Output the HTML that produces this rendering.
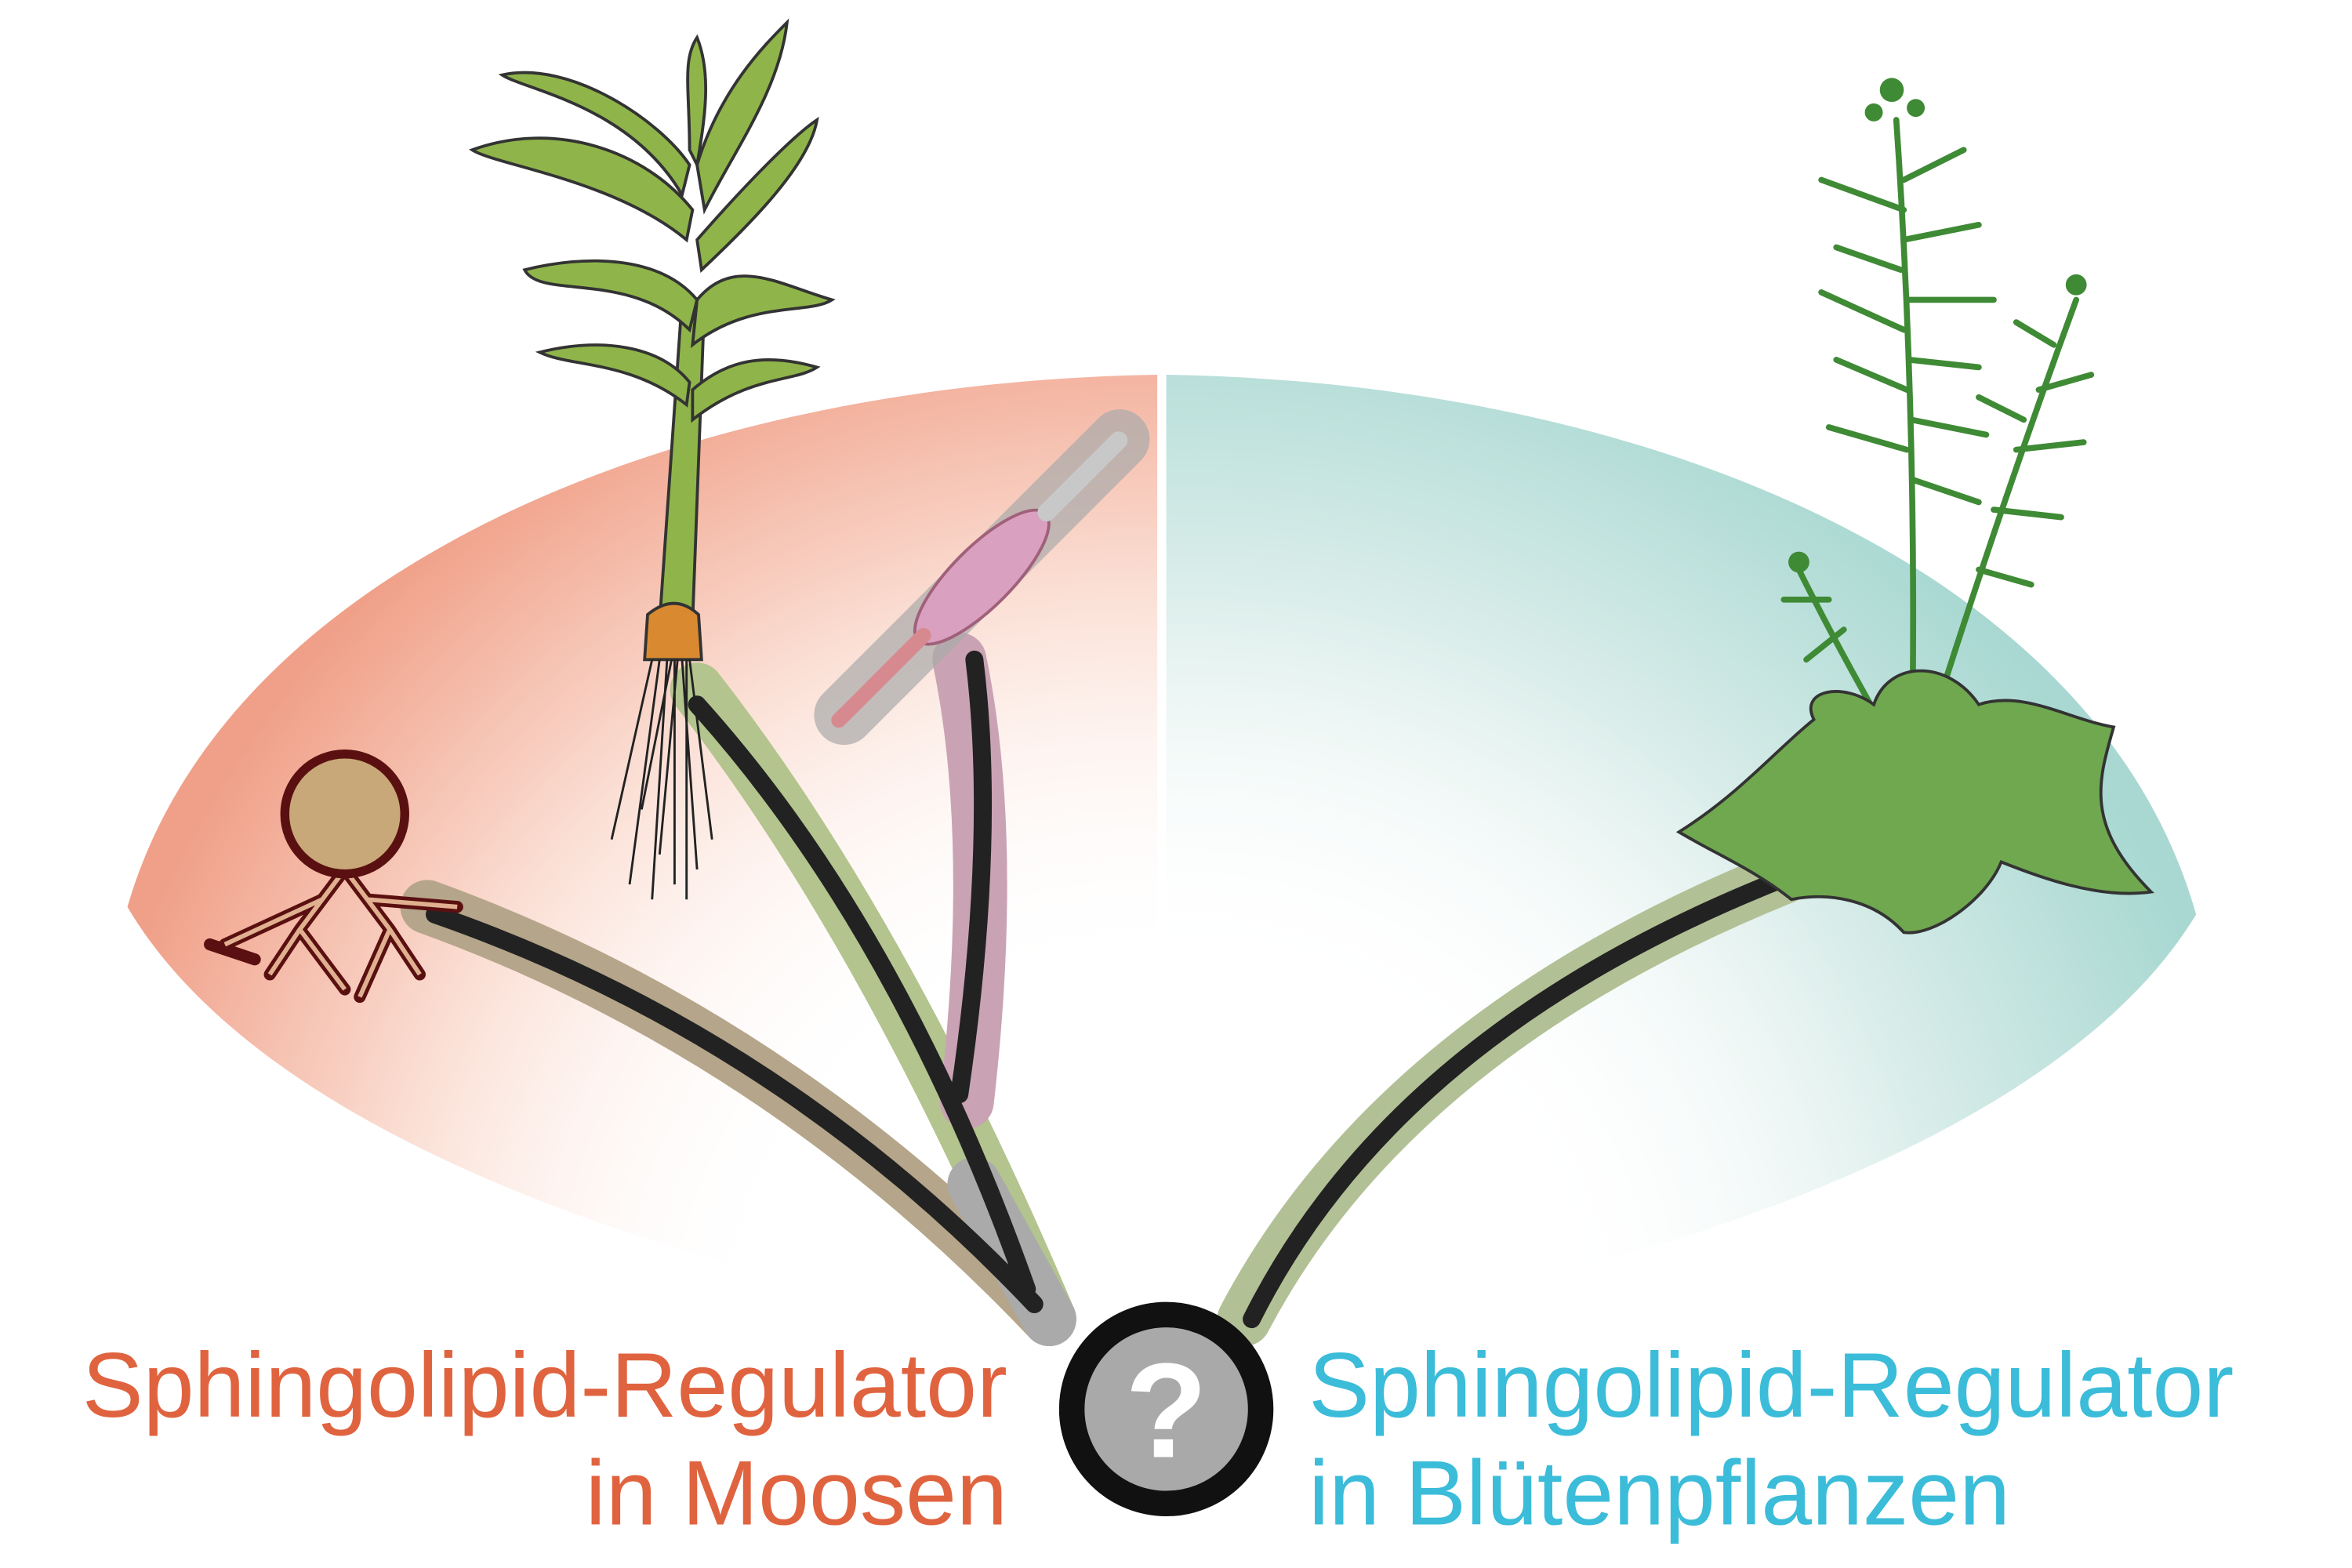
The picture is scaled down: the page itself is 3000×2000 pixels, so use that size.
<!DOCTYPE html>
<html><head><meta charset="utf-8"><style>
html,body{margin:0;padding:0;background:#fff;}
svg{display:block}
</style></head><body>
<svg width="3000" height="2000" viewBox="0 0 1569 1046" preserveAspectRatio="none" xmlns="http://www.w3.org/2000/svg">
<defs>
<radialGradient id="pk" cx="760" cy="900" r="720" gradientUnits="userSpaceOnUse">
<stop offset="0.35" stop-color="#fff" stop-opacity="0"/>
<stop offset="0.7" stop-color="#fbe0d6"/>
<stop offset="1" stop-color="#f0a088"/>
</radialGradient>
<radialGradient id="tl" cx="790" cy="900" r="720" gradientUnits="userSpaceOnUse">
<stop offset="0.35" stop-color="#fff" stop-opacity="0"/>
<stop offset="0.7" stop-color="#dceeeb"/>
<stop offset="1" stop-color="#a9d8d2"/>
</radialGradient>
</defs>
<rect width="1569" height="1046" fill="#fff"/>
<path d="M85,605 C150,380 450,255 772,250 L772,900 C600,880 200,800 85,605Z" fill="url(#pk)"/>
<path d="M778,250 C1100,255 1400,380 1465,610 C1350,800 950,880 778,900Z" fill="url(#tl)"/>
<g fill="none" stroke-linecap="round">
<path d="M700,880 Q520,690 285,605" stroke="#b5a58a" stroke-width="36"/>
<path d="M700,880 Q590,620 465,460" stroke="#b3c48e" stroke-width="36"/>
<path d="M645,735 Q665,560 640,440" stroke="#c9a3b3" stroke-width="36"/>
<path d="M830,880 Q930,690 1190,585" stroke="#b2c096" stroke-width="36"/>
<path d="M700,880 L650,790" stroke="#aaa" stroke-width="36"/>
<path d="M690,870 Q520,690 290,610" stroke="#222" stroke-width="12"/>
<path d="M685,860 Q600,620 465,470" stroke="#222" stroke-width="12"/>
<path d="M640,730 Q665,560 650,440" stroke="#222" stroke-width="12"/>
<path d="M835,880 Q930,690 1185,588" stroke="#222" stroke-width="12"/>
</g>
<g stroke="#5a1010" stroke-width="8" fill="none" stroke-linecap="round">
<path d="M230,580 L200,620 L180,650 M230,580 L260,620 L280,650 M215,600 L150,630 M245,600 L305,605 M200,620 L230,660 M260,620 L240,665 M170,640 L140,630"/>
</g>
<g stroke="#e0b090" stroke-width="3" fill="none">
<path d="M230,580 L200,620 L180,650 M230,580 L260,620 L280,650 M215,600 L150,630 M245,600 L305,605 M200,620 L230,660 M260,620 L240,665"/>
</g>
<circle cx="230" cy="543" r="40" fill="#c8a878" stroke="#5a1010" stroke-width="6"/>
<path d="M440,415 L455,200 L470,200 L462,415Z" fill="#8fb54a" stroke="#333" stroke-width="2"/>
<g fill="#8fb54a" stroke="#333" stroke-width="2">
<path d="M460,220 C420,180 360,200 350,180 C390,170 440,170 465,200Z"/>
<path d="M462,230 C500,200 540,210 555,200 C520,190 490,170 465,200Z"/>
<path d="M458,160 C410,120 330,110 315,100 C370,80 430,100 462,140Z"/>
<path d="M465,160 C500,120 530,90 545,80 C540,110 500,150 468,180Z"/>
<path d="M455,130 C420,70 350,60 335,50 C380,40 440,80 460,110Z"/>
<path d="M465,110 C480,60 510,30 525,15 C520,60 490,100 470,140Z"/>
<path d="M460,100 C460,60 455,40 465,25 C475,50 470,80 465,110Z"/>
<path d="M462,280 C500,250 530,255 545,245 C510,235 485,240 462,260Z"/>
<path d="M458,270 C420,240 380,245 360,235 C400,225 440,230 460,255Z"/>
</g>
<path d="M432,410 Q450,395 466,410 L468,440 L430,440Z" fill="#d98a30" stroke="#333" stroke-width="2"/>
<g stroke="#222" stroke-width="1.5" fill="none">
<path d="M440,440 L420,590 M445,440 L435,600 M450,440 L450,590 M455,440 L465,580 M460,440 L475,560 M435,440 L408,560 M448,440 L428,540 M452,440 L440,570 M458,440 L458,600"/>
</g>
<g transform="translate(655,385) rotate(-45)">
<rect x="-150" y="-20" width="300" height="40" rx="20" fill="#aaa" opacity="0.7"/>
<ellipse cx="0" cy="0" rx="60" ry="20" fill="#d9a0c0" stroke="#a0607a" stroke-width="2"/>
<rect x="-140" y="-5" width="90" height="10" rx="5" fill="#d68a90"/>
<rect x="55" y="-6" width="80" height="12" rx="6" fill="#c8c8c8"/>
</g>
<g fill="none" stroke="#3f8a35" stroke-width="4" stroke-linecap="round">
<path d="M1275,520 Q1280,300 1265,80"/>
<path d="M1280,510 Q1330,350 1385,200"/>
<path d="M1265,500 Q1230,440 1200,380"/>
<path d="M1270,140 L1215,120 M1268,180 L1225,165 M1270,220 L1215,195 M1272,260 L1225,240 M1272,300 L1220,285 M1270,120 L1310,100 M1270,160 L1320,150 M1272,200 L1330,200 M1274,240 L1320,245 M1275,280 L1325,290 M1276,320 L1320,335"/>
<path d="M1360,260 L1395,250 M1345,300 L1390,295 M1330,340 L1375,345 M1320,380 L1355,390 M1370,230 L1345,215 M1350,280 L1320,265"/>
<path d="M1220,400 L1190,400 M1230,420 L1205,440"/>
</g>
<g fill="#3f8a35"><circle cx="1262" cy="60" r="8"/><circle cx="1385" cy="190" r="7"/><circle cx="1200" cy="375" r="7"/><circle cx="1250" cy="75" r="6"/><circle cx="1278" cy="72" r="6"/></g>
<path d="M1120,555 C1160,530 1185,500 1210,480 C1200,460 1230,455 1250,470 C1260,440 1300,440 1320,470 C1350,460 1380,480 1410,485 C1400,520 1390,550 1435,595 C1400,600 1360,585 1335,575 C1325,600 1290,625 1270,622 C1250,600 1220,595 1195,600 C1170,580 1145,570 1120,555Z" fill="#6fa84f" stroke="#333" stroke-width="2"/>
<circle cx="778" cy="940" r="63" fill="#a9a9a9" stroke="#111" stroke-width="17"/>
<text x="778" y="972" font-family="Liberation Sans, sans-serif" font-weight="bold" font-size="90" fill="#fff" text-anchor="middle">?</text>
<g font-family="Liberation Sans, sans-serif" font-size="61">
<text x="672" y="945" fill="#e0633f" text-anchor="end">Sphingolipid-Regulator</text>
<text x="672" y="1017" fill="#e0633f" text-anchor="end">in Moosen</text>
<text x="873" y="945" fill="#3bbcd9">Sphingolipid-Regulator</text>
<text x="873" y="1017" fill="#3bbcd9">in Blütenpflanzen</text>
</g>
</svg>
</body></html>
